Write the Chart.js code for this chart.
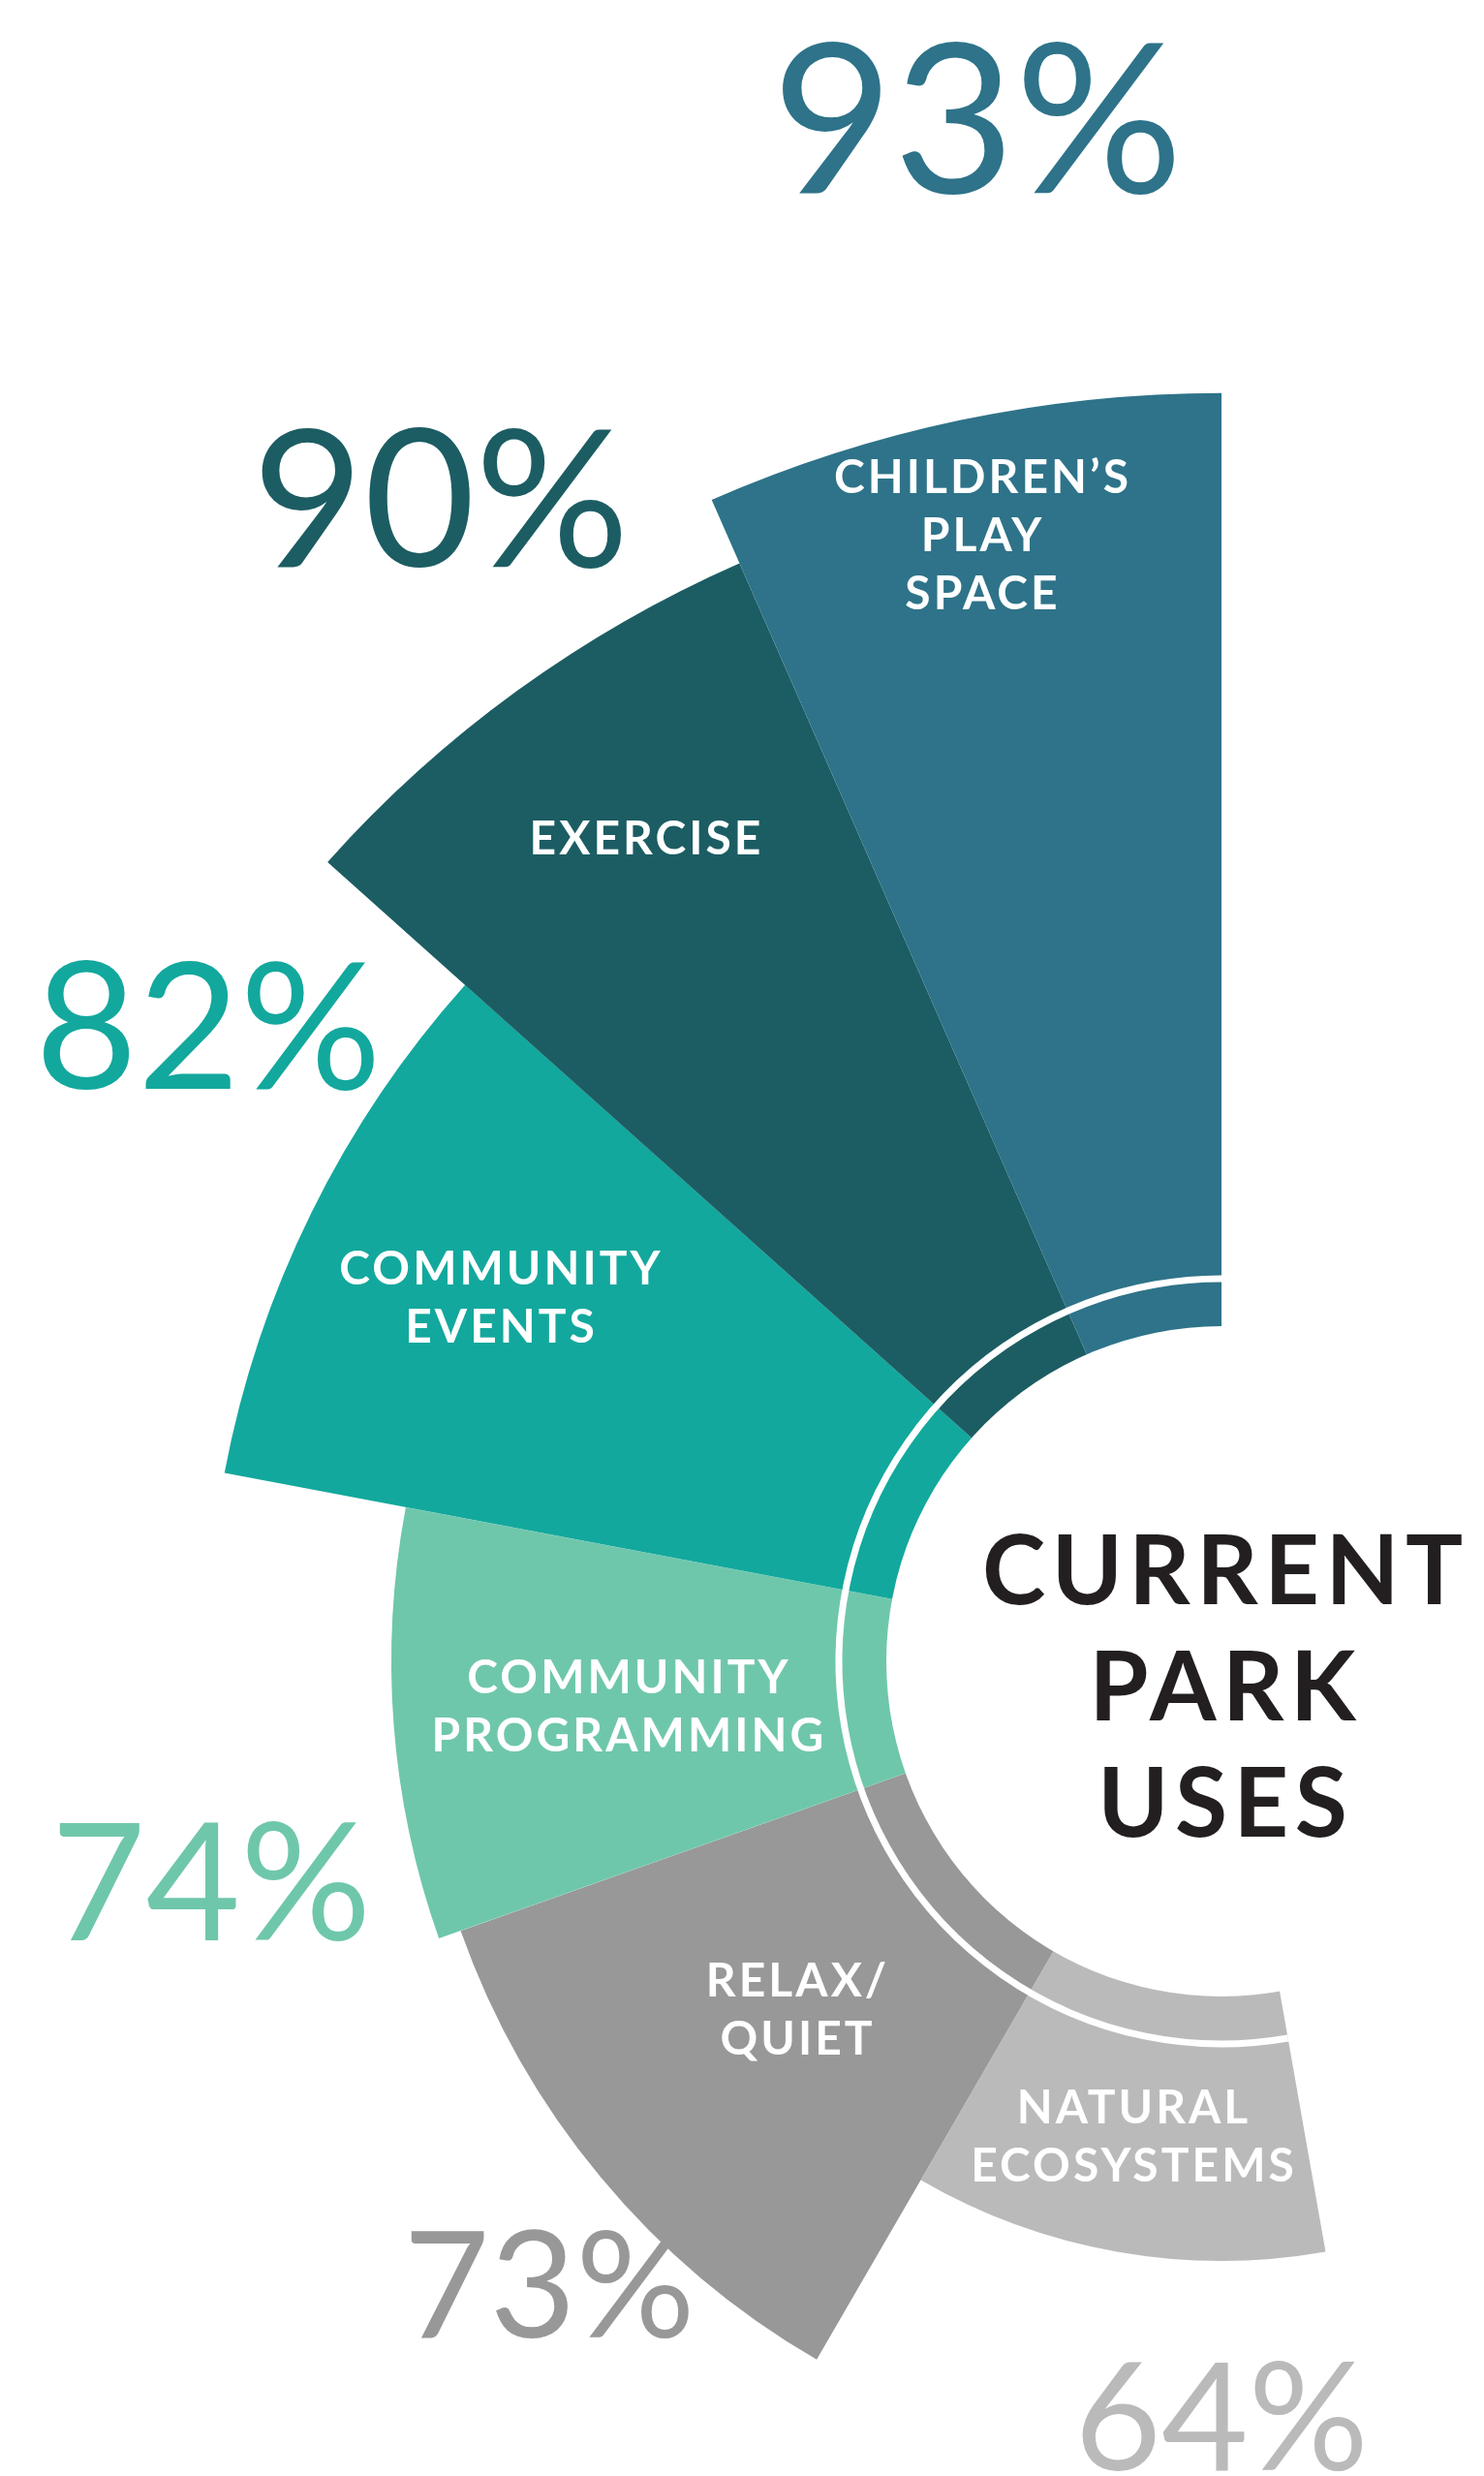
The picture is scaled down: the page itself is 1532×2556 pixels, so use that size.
<!DOCTYPE html>
<html>
<head>
<meta charset="utf-8">
<title>Current Park Uses</title>
<script src="https://cdn.jsdelivr.net/npm/chart.js@4.4.1/dist/chart.umd.min.js"></script>
<style>
  html, body { margin: 0; padding: 0; background: #fff; }
  #page { position: relative; width: 1532px; height: 2556px; overflow: hidden; background: #fff; }
  #chartWrap { position: absolute; }
  .lbl { position: absolute; white-space: nowrap; text-align: center; }
</style>
</head>
<body>
<div id="page">
  <div id="chartWrap"><canvas id="parkChart"></canvas></div>
</div>
<script>
// data, in reading order (top of the fan first)
const categories = [
  ['CHILDREN’S', 'PLAY', 'SPACE'],
  ['EXERCISE'],
  ['COMMUNITY', 'EVENTS'],
  ['COMMUNITY', 'PROGRAMMING'],
  ['RELAX/', 'QUIET'],
  ['NATURAL', 'ECOSYSTEMS']
];
const shareValues = [93, 90, 82, 74, 73, 64];
const centerTitle = ['CURRENT', 'PARK', 'USES'];

// styling
const sliceColors = ['#2E7389', '#1C5D63', '#13A89D', '#6FC7AB', '#989898', '#BABABA'];
const sliceAngles = [23.7, 24.5, 31.1, 30.2, 40.4, 40.1]; // degrees each slice covers
const FONT = 'Lato, "Open Sans", "DejaVu Sans", sans-serif';

// geometry of the fan on the page
const hub = { x: 1261, y: 1715, hole: 346, ring: 395, ringWidth: 7 };
const scaleMin = 38, scaleMax = 100, reach = 1476;

// label layout (page coords: centre x, cap top, cap height)
const pctLayout = [
  { cx: 1009, top: 42, cap: 158 },
  { cx: 455, top: 441, cap: 145 },
  { cx: 215, top: 992, cap: 133 },
  { cx: 218, top: 1881, cap: 123 },
  { cx: 567, top: 2302, cap: 112 },
  { cx: 1261, top: 2438, cap: 113 }
];
const nameLayout = [
  { cx: 1013, top: 475 },
  { cx: 666, top: 848 },
  { cx: 516, top: 1292 },
  { cx: 648, top: 1714 },
  { cx: 822, top: 2027 },
  { cx: 1169, top: 2158 }
];

const page = document.getElementById('page');
const mctx = document.createElement('canvas').getContext('2d');

function fontMetrics(weight) {
  mctx.font = `${weight} 100px ${FONT}`;
  const m = mctx.measureText('H');
  return {
    cap: m.actualBoundingBoxAscent / 100,
    asc: m.fontBoundingBoxAscent / 100,
    desc: m.fontBoundingBoxDescent / 100
  };
}

function inkWidth(text, weight, size) {
  mctx.font = `${weight} ${size}px ${FONT}`;
  const m = mctx.measureText(text);
  return m.actualBoundingBoxLeft + m.actualBoundingBoxRight;
}

// put lines of text so that the first line's cap top lands on `top`
function placeText(lines, opt) {
  const fm = fontMetrics(opt.weight);
  const size = opt.cap / fm.cap;
  const pitch = opt.pitch || size * 1.2;
  const offset = (pitch - (fm.asc + fm.desc) * size) / 2 + (fm.asc - fm.cap) * size;
  const div = document.createElement('div');
  div.className = 'lbl';
  div.style.left = (opt.cx - 700) + 'px';
  div.style.width = '1400px';
  div.style.top = (opt.top - offset) + 'px';
  div.style.font = `${opt.weight} ${size}px ${FONT}`;
  div.style.lineHeight = pitch + 'px';
  div.style.color = opt.color;
  if (opt.spacing) {
    div.style.letterSpacing = opt.spacing + 'px';
    div.style.paddingLeft = opt.spacing + 'px';
    div.style.boxSizing = 'border-box';
  }
  div.innerHTML = lines.join('<br>');
  page.appendChild(div);
  return size;
}

function spacingFor(word, weight, cap, target) {
  const fm = fontMetrics(weight);
  const size = cap / fm.cap;
  return (target - inkWidth(word, weight, size)) / (word.length - 1);
}

// the fan: polar area, drawn clockwise from the bottom so the list is reversed
const chartValues = shareValues.slice().reverse();
const chartColors = sliceColors.slice().reverse();
const chartAngles = sliceAngles.slice().reverse();
const chartLabels = categories.map(c => c.join(' ')).reverse();
const totalAngle = sliceAngles.reduce((a, b) => a + b, 0);

const wrap = document.getElementById('chartWrap');
const canvas = document.getElementById('parkChart');
canvas.width = reach * 2;
canvas.height = reach * 2;
wrap.style.left = (hub.x - reach) + 'px';
wrap.style.top = (hub.y - reach) + 'px';

const hubPlugin = {
  id: 'hub',
  afterDatasetsDraw(chart) {
    const r = chart.scales.r;
    const ctx = chart.ctx;
    ctx.save();
    ctx.fillStyle = '#fff';
    ctx.beginPath();
    ctx.arc(r.xCenter, r.yCenter, hub.hole, 0, Math.PI * 2);
    ctx.fill();
    const a0 = (r.options.startAngle - 90) * Math.PI / 180;
    ctx.strokeStyle = '#fff';
    ctx.lineWidth = hub.ringWidth;
    ctx.beginPath();
    ctx.arc(r.xCenter, r.yCenter, hub.ring, a0, -Math.PI / 2);
    ctx.stroke();
    ctx.restore();
  }
};

new Chart(canvas, {
  type: 'polarArea',
  data: {
    labels: chartLabels,
    datasets: [{
      data: chartValues,
      backgroundColor: chartColors,
      borderWidth: 0,
      angle: ctx => chartAngles[ctx.dataIndex]
    }]
  },
  options: {
    responsive: false,
    devicePixelRatio: 1,
    animation: false,
    layout: { padding: 0 },
    plugins: { legend: { display: false }, tooltip: { enabled: false } },
    scales: {
      r: {
        min: scaleMin,
        max: scaleMax,
        startAngle: -totalAngle,
        ticks: { display: false },
        grid: { display: false },
        angleLines: { display: false },
        pointLabels: { display: false }
      }
    }
  },
  plugins: [hubPlugin]
});

// percentages
shareValues.forEach((v, i) => {
  const l = pctLayout[i];
  placeText([v + '%'], { cx: l.cx, top: l.top, cap: l.cap, weight: 400, color: sliceColors[i] });
});

// slice names
const nameSpacing = spacingFor('PROGRAMMING', 700, 35, 400);
categories.forEach((lines, i) => {
  const l = nameLayout[i];
  placeText(lines, { cx: l.cx, top: l.top, cap: 35, pitch: 60, weight: 700, color: '#fff', spacing: nameSpacing });
});

// centre title
const titleSpacing = spacingFor('CURRENT', 700, 72, 492);
placeText(centerTitle, { cx: 1262, top: 1584, cap: 72, pitch: 120, weight: 700, color: '#231F20', spacing: titleSpacing });
</script>
</body>
</html>
